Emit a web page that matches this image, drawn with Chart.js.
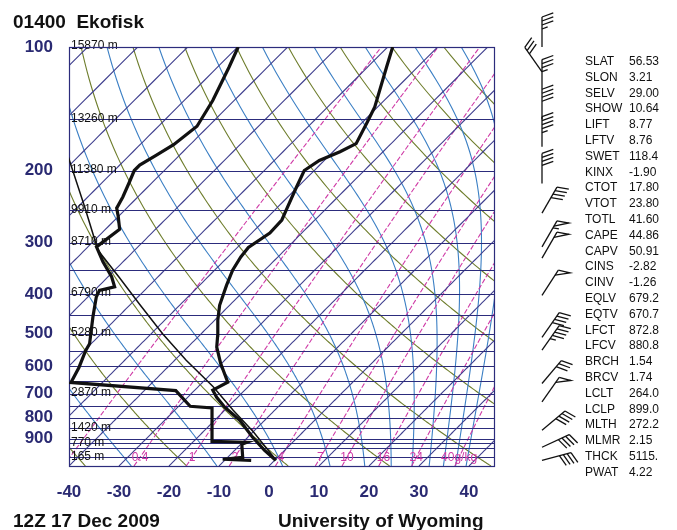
<!DOCTYPE html>
<html>
<head>
<meta charset="utf-8">
<script src="https://cdn.jsdelivr.net/npm/chart.js@4.4.1/dist/chart.umd.min.js"></script>
<style>
body { margin: 0; background: #fff; font-family: "Liberation Sans", Arial, sans-serif; }
#page { position: relative; width: 677px; height: 530px; overflow: hidden; }
canvas { position: absolute; left: 0; top: 0; }
.title { position: absolute; font-weight: bold; font-size: 19px; line-height: 1.15; color: #111; white-space: pre; }
#stats { position: absolute; left: 585px; top: 54px; font-size: 12px; line-height: 15.8px; color: #111; }
#stats div { white-space: nowrap; }
#stats span { display: inline-block; width: 44px; }
</style>
</head>
<body>
<div id="page">
  <canvas id="skewt" width="677" height="530"></canvas>
  <div class="title" style="left:13px; top:11px;">01400  Ekofisk</div>
  <div class="title" style="left:13px; top:510px;">12Z 17 Dec 2009</div>
  <div class="title" style="left:278px; top:510px;">University of Wyoming</div>
  <div id="stats"></div>
</div>
<script>
// sounding: temperature
const tempP = [1017, 962, 894, 812, 755, 714, 686, 656, 590, 539, 504, 463, 426, 381, 350, 325, 308, 284, 264, 246, 220, 200, 189, 180, 172, 153, 140, 112, 100];
const tempT = [0.2, -4.0, -9.0, -15.0, -20.6, -24.2, -26.4, -25.0, -30.2, -34.2, -36.4, -39.4, -42.0, -44.6, -46.4, -47.4, -47.8, -46.4, -46.6, -48.0, -50.2, -52.0, -51.0, -48.6, -47.0, -49.0, -50.6, -56.2, -59.0];

// dewpoint
const dewP = [1017, 1011, 1000, 929, 919, 914, 758, 751, 688, 657, 604, 550, 529, 455, 407, 392, 384, 363, 334, 307, 278, 259, 247, 232, 213, 200, 194, 184, 173, 156, 135, 112, 100];
const dewT = [-4.7, -10.6, -7.0, -9.8, -9.2, -16.3, -23.0, -27.7, -33.7, -56.3, -57.7, -59.7, -60.3, -65.0, -68.3, -69.0, -66.7, -69.3, -74.0, -78.3, -77.2, -80.0, -82.0, -83.0, -84.7, -86.0, -86.0, -84.7, -83.3, -82.3, -84.3, -87.7, -89.9];

// lifted parcel
const parcelP = [1017, 866, 768, 673, 580, 500, 423, 364, 313, 245, 185];
const parcelT = [0.3, -10.0, -18.3, -27.0, -37.7, -47.7, -58.3, -67.7, -77.3, -88.7, -102.0];

// wind barbs
const barbP = [100, 115, 127, 150, 175, 215, 254, 307, 327, 403, 510, 548, 661, 733, 859, 945, 1017];
const barbDir = [0, 325, 0, 0, 0, 0, 30, 30, 30, 33, 35, 35, 40, 35, 50, 65, 75];
const barbSpd = [35, 30, 35, 40, 45, 40, 40, 55, 50, 50, 40, 45, 30, 50, 40, 40, 40];

// heights of standard levels
const heightP = [1000, 925, 850, 700, 500, 400, 300, 250, 200, 150, 100];
const heightLabel = ['165 m', '770 m', '1420 m', '2870 m', '5280 m', '6790 m', '8710 m', '9910 m', '11380 m', '13260 m', '15870 m'];

// axes
const xTicks = [-40, -30, -20, -10, 0, 10, 20, 30, 40];
const pTicks = [100, 200, 300, 400, 500, 600, 700, 800, 900];

// diagram line families
const isobars = [100, 150, 200, 250, 300, 350, 400, 450, 500, 550, 600, 650, 700, 750, 800, 850, 900, 925, 950, 1000, 1050];
const isotherms = [-130, -120, -110, -100, -90, -80, -70, -60, -50, -40, -30, -20, -10, 0, 10, 20, 30, 40];
const dryThetas = [-40, -20, 0, 20, 40, 60, 80, 100, 120, 140, 160, 180];
const moistThetaE = [-30, -10, 10, 30, 50, 70, 90, 110, 130, 150, 170];
const mixRatios = [0.1, 0.4, 1, 2, 4, 7, 10, 16, 24, 40];
const mixLabels = ['', '0.4', '1', '2', '4', '7', '10', '16', '24', '40g/kg'];

// station indices
const statNames = ['SLAT', 'SLON', 'SELV', 'SHOW', 'LIFT', 'LFTV', 'SWET', 'KINX', 'CTOT', 'VTOT', 'TOTL', 'CAPE', 'CAPV', 'CINS', 'CINV', 'EQLV', 'EQTV', 'LFCT', 'LFCV', 'BRCH', 'BRCV', 'LCLT', 'LCLP', 'MLTH', 'MLMR', 'THCK', 'PWAT'];
const statValues = ['56.53', '3.21', '29.00', '10.64', '8.77', '8.76', '118.4', '-1.90', '17.80', '23.80', '41.60', '44.86', '50.91', '-2.82', '-1.26', '679.2', '670.7', '872.8', '880.8', '1.54', '1.74', '264.0', '899.0', '272.2', '2.15', '5115.', '4.22'];

const SKEW = 82;
function skewX(t, p) { return t + SKEW * Math.log10(1050 / p); }

function es(t) { return 6.112 * Math.exp(17.67 * t / (t + 243.5)); }
function thetaE(t, p) {
    const e = es(t);
    const w = 0.622 * e / (p - e);
    const tk = t + 273.15;
    return tk * Math.pow(1000 / p, 0.2857) * Math.exp(2.5e6 * w / (1004 * tk));
}
function moistT(te, p) {
    let lo = -160, hi = 60;
    for (let i = 0; i < 50; i++) {
        const mid = (lo + hi) / 2;
        if (thetaE(mid, p) > te) hi = mid; else lo = mid;
    }
    return (lo + hi) / 2;
}
function mixT(w, p) {
    const e = w * p / (622 + w);
    const a = Math.log(e / 6.112);
    return 243.5 * a / (17.67 - a);
}

function toPoints(ps, ts) {
    return ps.map((p, i) => ({ x: skewX(ts[i], p), y: p }));
}

const stats = document.getElementById('stats');
statNames.forEach((n, i) => {
    const row = document.createElement('div');
    row.innerHTML = '<span>' + n + '</span>' + statValues[i];
    stats.appendChild(row);
});

const pSteps = [];
for (let p = 1050; p >= 100; p -= 5) pSteps.push(p);

const background = {
    id: 'skewBackground',
    beforeDatasetsDraw(chart) {
        const { ctx, chartArea: a, scales: { x, y } } = chart;
        const curve = (fn, color, width, dash) => {
            ctx.beginPath();
            pSteps.forEach((p, i) => {
                const px = x.getPixelForValue(skewX(fn(p), p));
                const py = y.getPixelForValue(p);
                if (i === 0) ctx.moveTo(px, py); else ctx.lineTo(px, py);
            });
            ctx.strokeStyle = color;
            ctx.lineWidth = width;
            ctx.setLineDash(dash || []);
            ctx.stroke();
        };
        ctx.save();
        ctx.beginPath();
        ctx.rect(a.left, a.top, a.right - a.left, a.bottom - a.top);
        ctx.clip();

        dryThetas.forEach(th => curve(p => (th + 273.15) * Math.pow(p / 1000, 0.2857) - 273.15, '#6e7d2c', 1.1));
        moistThetaE.forEach(te => curve(p => moistT(te + 273.15, p), '#3b7fc4', 1.1));
        mixRatios.forEach(w => curve(p => mixT(w, p), '#cf3aa6', 1.1, [5, 2]));
        ctx.setLineDash([]);
        isotherms.forEach(t => curve(p => t, '#40408f', 1.1));

        ctx.strokeStyle = '#2c2c7c';
        ctx.lineWidth = 1.2;
        isobars.forEach(p => {
            const py = Math.round(y.getPixelForValue(p)) + 0.5;
            ctx.beginPath();
            ctx.moveTo(a.left, py);
            ctx.lineTo(a.right, py);
            ctx.stroke();
        });

        // mixing ratio labels
        ctx.font = '12px "Liberation Sans", Arial, sans-serif';
        ctx.fillStyle = '#cf3aa6';
        ctx.textAlign = 'center';
        ctx.textBaseline = 'middle';
        mixRatios.forEach((w, i) => {
            if (!mixLabels[i]) return;
            const px = x.getPixelForValue(skewX(mixT(w, 1000), 1000));
            ctx.fillText(mixLabels[i], px, y.getPixelForValue(1000));
        });
        ctx.restore();

        // geopotential heights
        ctx.save();
        ctx.font = '12px "Liberation Sans", Arial, sans-serif';
        ctx.fillStyle = '#111';
        ctx.textAlign = 'left';
        ctx.textBaseline = 'middle';
        heightP.forEach((p, i) => {
            ctx.fillText(heightLabel[i], a.left + 2, y.getPixelForValue(p) - 1);
        });

        ctx.strokeStyle = '#2c2c7c';
        ctx.lineWidth = 1.2;
        ctx.strokeRect(a.left + 0.5, a.top + 0.5, a.right - a.left - 1, a.bottom - a.top);
        ctx.restore();
    },
    afterDraw(chart) {
        const { ctx, scales: { y } } = chart;
        ctx.save();
        ctx.strokeStyle = '#111';
        ctx.lineWidth = 1.3;
        barbP.forEach((p, i) => drawBarb(ctx, 542, y.getPixelForValue(p), barbDir[i], barbSpd[i]));
        ctx.restore();
    }
};

function drawBarb(ctx, bx, by, dir, spd) {
    const rad = dir * Math.PI / 180;
    const ux = Math.sin(rad), uy = -Math.cos(rad);
    const rx = -uy, ry = ux;
    const L = 30, F = 12, gap = 4;
    const tx = bx + ux * L, ty = by + uy * L;
    const fx = rx * 0.94 + ux * 0.34, fy = ry * 0.94 + uy * 0.34;
    ctx.beginPath();
    ctx.moveTo(bx, by);
    ctx.lineTo(tx, ty);
    ctx.stroke();
    let s = Math.round(spd / 5) * 5, d = 0;
    while (s >= 50) {
        const ax = tx - ux * d, ay = ty - uy * d;
        ctx.beginPath();
        ctx.moveTo(ax, ay);
        ctx.lineTo(ax + fx * F, ay + fy * F);
        ctx.lineTo(ax - ux * 6, ay - uy * 6);
        ctx.stroke();
        d += 8;
        s -= 50;
    }
    while (s >= 10) {
        const ax = tx - ux * d, ay = ty - uy * d;
        ctx.beginPath();
        ctx.moveTo(ax, ay);
        ctx.lineTo(ax + fx * F, ay + fy * F);
        ctx.stroke();
        d += gap;
        s -= 10;
    }
    if (s >= 5) {
        if (d === 0) d = gap;
        const ax = tx - ux * d, ay = ty - uy * d;
        ctx.beginPath();
        ctx.moveTo(ax, ay);
        ctx.lineTo(ax + fx * F / 2, ay + fy * F / 2);
        ctx.stroke();
    }
}

Chart.defaults.font.family = '"Liberation Sans", Arial, sans-serif';

var skewt_chart = new Chart(document.getElementById('skewt').getContext('2d'), {
    type: 'scatter',
    data: {
        datasets: [
            {
                label: 'Temperature',
                data: toPoints(tempP, tempT),
                showLine: true,
                borderColor: '#111',
                borderWidth: 3.2,
                pointRadius: 0
            },
            {
                label: 'Dewpoint',
                data: toPoints(dewP, dewT),
                showLine: true,
                borderColor: '#111',
                borderWidth: 3.2,
                pointRadius: 0
            },
            {
                label: 'Parcel',
                data: toPoints(parcelP, parcelT),
                showLine: true,
                borderColor: '#111',
                borderWidth: 1.5,
                pointRadius: 0
            }
        ]
    },
    options: {
        responsive: false,
        animation: false,
        devicePixelRatio: 1,
        layout: { padding: { left: 0, top: 47, right: 182, bottom: 0 } },
        plugins: { legend: { display: false }, tooltip: { enabled: false } },
        scales: {
            x: {
                type: 'linear',
                min: -40,
                max: 45.2,
                grid: { display: false, drawTicks: false },
                border: { display: false },
                afterBuildTicks: s => { s.ticks = xTicks.map(v => ({ value: v })); },
                afterFit: s => { s.height = 64; },
                ticks: {
                    padding: 16,
                    autoSkip: false,
                    maxRotation: 0,
                    color: '#2a2a72',
                    font: { size: 17, weight: 'bold' },
                    callback: v => String(v)
                }
            },
            y: {
                type: 'logarithmic',
                min: 100,
                max: 1050,
                reverse: true,
                grid: { display: false, drawTicks: false },
                border: { display: false },
                afterBuildTicks: s => { s.ticks = pTicks.map(v => ({ value: v })); },
                afterFit: s => { s.width = 69; },
                ticks: {
                    padding: 16,
                    autoSkip: false,
                    color: '#2a2a72',
                    font: { size: 17, weight: 'bold' },
                    callback: v => String(v)
                }
            }
        }
    },
    plugins: [background]
});
</script>
</body>
</html>
